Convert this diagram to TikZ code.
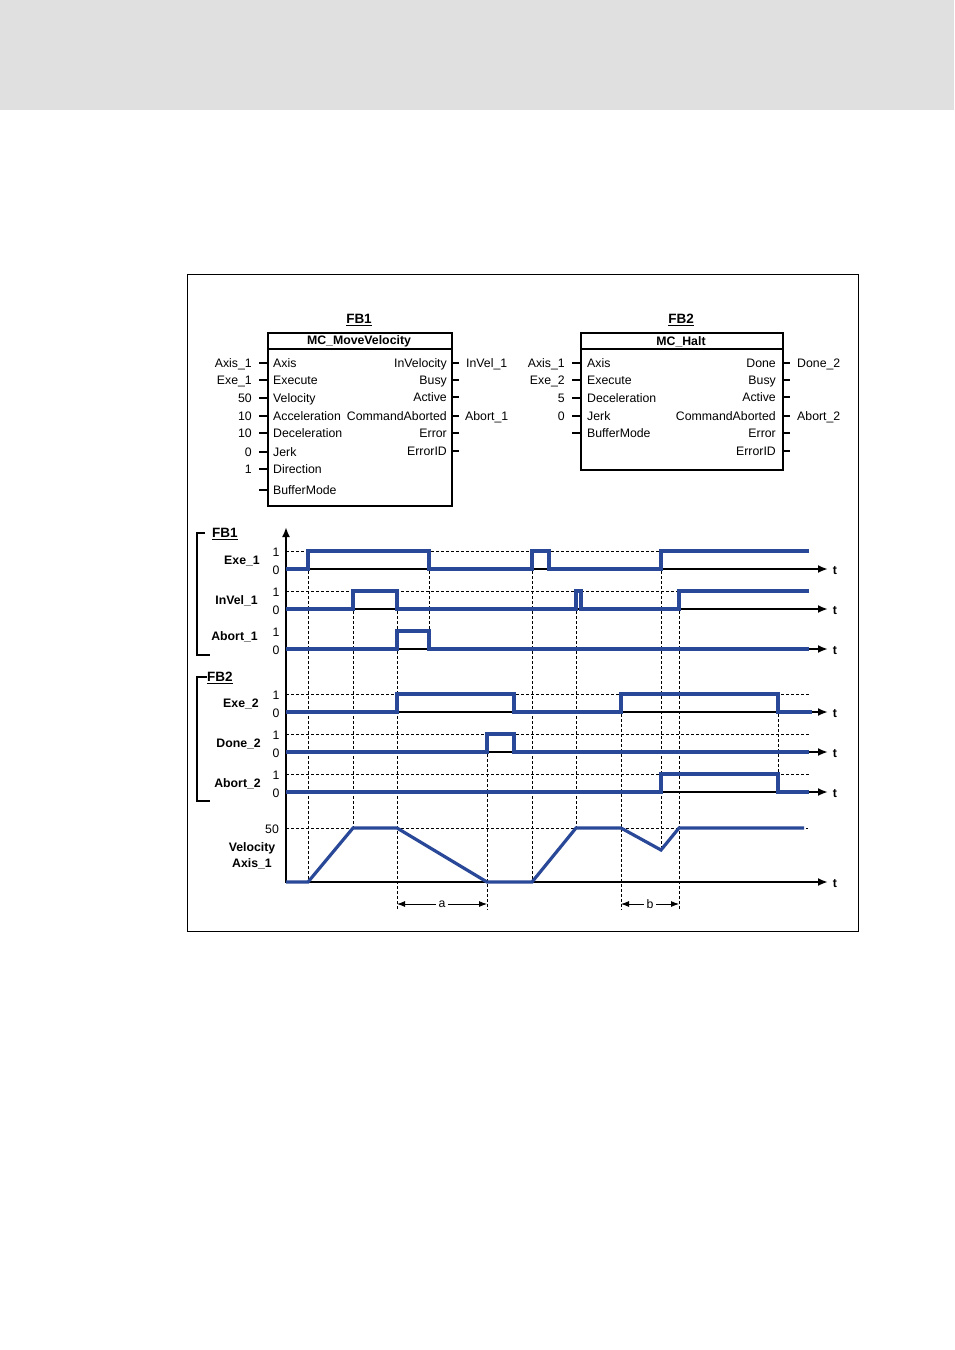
\documentclass[tikz,border=0pt]{standalone}
\usepackage{fontspec}
\setmainfont{Liberation Sans}
\usetikzlibrary{arrows.meta}
\definecolor{sig}{RGB}{41,72,152}
\definecolor{hdr}{RGB}{224,224,224}
\begin{document}
\begin{tikzpicture}[x=1pt,y=-1pt,
  txt/.style={font=\fontsize{12.3}{14}\selectfont, inner sep=0pt, yshift=-1.5pt},
  btxt/.style={font=\fontsize{12.3}{14}\selectfont\bfseries, inner sep=0pt, yshift=-1.5pt},
  ttl/.style={font=\fontsize{13.5}{15}\selectfont\bfseries, inner sep=0pt, yshift=-2pt},
  fbbox/.style={draw, line width=2pt, inner sep=0pt, anchor=north west},
  stub/.style={line width=1.5pt},
  wave/.style={draw=sig, line width=3.2pt, line join=miter},
  axisl/.style={line width=2pt, -{Latex[length=10pt,width=8pt]}},
  guide/.style={line width=0.9pt, dash pattern=on 3pt off 2pt},
  dimarrow/.style={line width=0.9pt, {Latex[length=8pt,width=6pt]}-{Latex[length=8pt,width=6pt]}}
]
\useasboundingbox (0,0) rectangle (954,1350);
\fill[hdr] (0,0) rectangle (954,110);
\draw[line width=0.8pt] (187,274) rectangle (858,931);

% ---------------- FB1 ----------------
\node[ttl] (fb1t) at (359,318) {\underline{FB1}};
\node[fbbox, minimum width=184pt, minimum height=173pt] (fb1) at (267,332) {};
\draw[line width=2pt] (267,349) -- (451,349);
\node[btxt] (fb1name) at (359,340) {MC\_MoveVelocity};
\foreach \n/\y/\pl in {1/363/Axis, 2/380/Execute, 3/398/Velocity, 4/416/Acceleration, 5/433/Deceleration, 6/452/Jerk, 7/469/Direction, 8/490/BufferMode}{
  \node[txt, anchor=mid west] (fb1i\n) at (273,\y) {\pl};
  \draw[stub] (259,\y) -- (267,\y);
}
\foreach \n/\y/\pl in {1/363/Axis\_1, 2/380/Exe\_1, 3/398/50, 4/416/10, 5/433/10, 6/452/0, 7/469/1}{
  \node[txt, anchor=mid east] (fb1v\n) at (252,\y) {\pl};
}
\foreach \n/\y/\pl in {1/363/InVelocity, 2/380/Busy, 3/397/Active, 4/416/CommandAborted, 5/433/Error, 6/451/ErrorID}{
  \node[txt, anchor=mid east] (fb1o\n) at (447,\y) {\pl};
  \draw[stub] (451,\y) -- (459,\y);
}
\node[txt, anchor=mid west] (fb1r1) at (466,363) {InVel\_1};
\node[txt, anchor=mid west] (fb1r4) at (465,416) {Abort\_1};

% ---------------- FB2 ----------------
\node[ttl] (fb2t) at (681,318) {\underline{FB2}};
\node[fbbox, minimum width=202pt, minimum height=137pt] (fb2) at (580,332) {};
\draw[line width=2pt] (580,349) -- (782,349);
\node[btxt] (fb2name) at (681,340) {MC\_Halt};
\foreach \n/\y/\pl in {1/363/Axis, 2/380/Execute, 3/398/Deceleration, 4/416/Jerk, 5/433/BufferMode}{
  \node[txt, anchor=mid west] (fb2i\n) at (587,\y) {\pl};
  \draw[stub] (572,\y) -- (580,\y);
}
\foreach \n/\y/\pl in {1/363/Axis\_1, 2/380/Exe\_2, 3/398/5, 4/416/0}{
  \node[txt, anchor=mid east] (fb2v\n) at (565,\y) {\pl};
}
\foreach \n/\y/\pl in {1/363/Done, 2/380/Busy, 3/397/Active, 4/416/CommandAborted, 5/433/Error, 6/451/ErrorID}{
  \node[txt, anchor=mid east] (fb2o\n) at (776,\y) {\pl};
  \draw[stub] (782,\y) -- (790,\y);
}
\node[txt, anchor=mid west] (fb2r1) at (797,363) {Done\_2};
\node[txt, anchor=mid west] (fb2r4) at (797,416) {Abort\_2};

% ---------------- timing brackets ----------------
\draw[line width=1.3pt] (205,533) -- (197,533) -- (197,655) -- (210,655);
\node[ttl, anchor=mid west] (tfb1) at (212,533) {\underline{FB1}};
\draw[line width=1.3pt] (207,677) -- (197,677) -- (197,801) -- (210,801);
\node[ttl, anchor=mid west] (tfb2) at (207,677) {\underline{FB2}};

% signal names
\node[btxt, anchor=mid east] (lexe1) at (260,560) {Exe\_1};
\node[btxt, anchor=mid east] (linv1) at (258,600) {InVel\_1};
\node[btxt, anchor=mid east] (labt1) at (258,636) {Abort\_1};
\node[btxt, anchor=mid east] (lexe2) at (259,703) {Exe\_2};
\node[btxt, anchor=mid east] (ldon2) at (261,743) {Done\_2};
\node[btxt, anchor=mid east] (labt2) at (261,783) {Abort\_2};
\node[btxt] (lvel) at (252,847) {Velocity};
\node[btxt] (laxs) at (252,862) {Axis\_1};

% level labels
\foreach \n/\a/\b in {1/551/569, 2/591/609, 3/631/649, 4/694/712, 5/734/752, 6/774/792}{
  \node[txt] (one\n) at (276,\a) {1};
  \node[txt] (zero\n) at (276,\b) {0};
}
\node[txt] (fifty) at (272,828) {50};

% guides
\foreach \y in {551,591,694,734,774}{ \draw[guide] (286,\y) -- (810,\y); }
\draw[guide] (286,828) -- (808,828);
\foreach \x/\a/\b in {308/551/882, 353/591/828, 397/591/910, 429/551/649, 487/734/910, 532/551/882, 576/591/828, 621/694/910, 661/551/850, 679/591/910, 778/694/792}{
  \draw[guide] (\x,\a) -- (\x,\b);
}

% axes
\draw[line width=2.2pt, -{Latex[length=10pt,width=8pt]}] (286,883) -- (286,527);
\foreach \n/\y in {1/569, 2/609, 3/649, 4/712, 5/752, 6/792, 7/882}{
  \draw[axisl] (286,\y) -- (828,\y);
  \node[btxt] (t\n) at (835,\y) {t};
}

% waveforms
\draw[wave] (286,569) -- (308,569) -- (308,551) -- (429,551) -- (429,569) -- (532,569) -- (532,551) -- (549,551) -- (549,569) -- (661,569) -- (661,551) -- (809,551);
\draw[wave] (286,609) -- (353,609) -- (353,591) -- (397,591) -- (397,609) -- (576,609) -- (576,591) -- (581,591) -- (581,609) -- (679,609) -- (679,591) -- (809,591);
\draw[wave] (286,649) -- (397,649) -- (397,631) -- (429,631) -- (429,649) -- (809,649);
\draw[wave] (286,712) -- (397,712) -- (397,694) -- (514,694) -- (514,712) -- (621,712) -- (621,694) -- (778,694) -- (778,712) -- (812,712);
\draw[wave] (286,752) -- (487,752) -- (487,734) -- (514,734) -- (514,752) -- (809,752);
\draw[wave] (286,792) -- (661,792) -- (661,774) -- (778,774) -- (778,792) -- (809,792);
\draw[wave] (286,882) -- (308,882) -- (353,828) -- (397,828) -- (487,882) -- (532,882) -- (576,828) -- (621,828) -- (661,850) -- (679,828) -- (804,828);

% dimension arrows
\coordinate (a1) at (397,904); \coordinate (a2) at (487,904);
\draw[dimarrow] (a1) -- node[txt, fill=white, inner xsep=3pt, yshift=1.5pt] (la) {a} (a2);
\coordinate (b1) at (621,904); \coordinate (b2) at (679,904);
\draw[dimarrow] (b1) -- node[txt, fill=white, inner xsep=3pt, yshift=1.5pt] (lb) {b} (b2);
\end{tikzpicture}
\end{document}
